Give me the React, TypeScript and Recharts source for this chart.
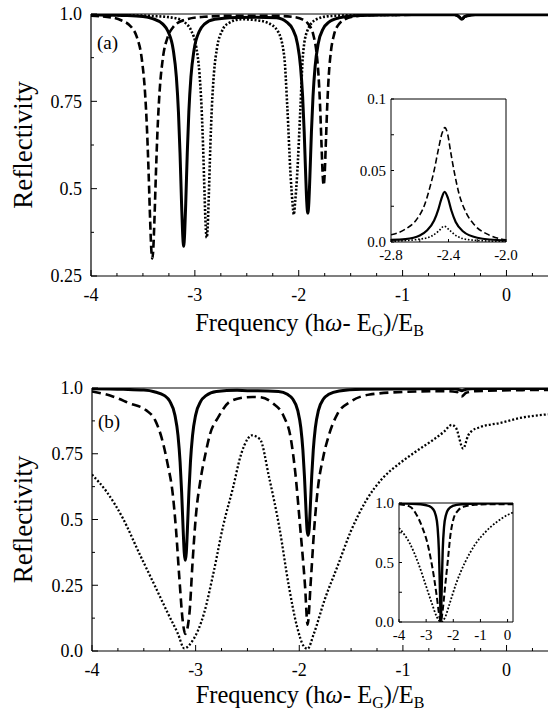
import React from 'react';
import { LineChart, Line, XAxis, YAxis, ReferenceLine } from 'recharts';

// ---------- Panel (a) main curves: [frequency, reflectivity] ----------
const aSolid: [number, number][] = [
  [-4.0, 0.998], [-3.7, 0.996], [-3.5, 0.993], [-3.408, 0.987], [-3.308, 0.971], [-3.258, 0.95],
  [-3.208, 0.897], [-3.178, 0.819], [-3.158, 0.719], [-3.143, 0.603], [-3.128, 0.457], [-3.118, 0.374],
  [-3.108, 0.335], [-3.098, 0.374], [-3.088, 0.457], [-3.073, 0.603], [-3.058, 0.719], [-3.038, 0.819],
  [-3.008, 0.897], [-2.958, 0.95], [-2.908, 0.971], [-2.808, 0.985], [-2.6, 0.99], [-2.4125, 0.991],
  [-2.2125, 0.989], [-2.1125, 0.976], [-2.0625, 0.959], [-2.0125, 0.915], [-1.9825, 0.849], [-1.9625, 0.764],
  [-1.9475, 0.664], [-1.9325, 0.535], [-1.9225, 0.461], [-1.9125, 0.43], [-1.9025, 0.461], [-1.8925, 0.535],
  [-1.8775, 0.664], [-1.8625, 0.764], [-1.8425, 0.849], [-1.8125, 0.915], [-1.7625, 0.959], [-1.7125, 0.976],
  [-1.6125, 0.989], [-1.4125, 0.996], [-1.0, 0.998], [-0.5, 0.998], [-0.46, 0.993], [-0.43, 0.985],
  [-0.4, 0.993], [-0.3, 0.998], [0.0, 0.998], [0.4, 0.998],
];
const aDashed: [number, number][] = [
  [-4.0, 0.995], [-3.8, 0.99], [-3.71, 0.982], [-3.61, 0.962], [-3.56, 0.935], [-3.51, 0.869],
  [-3.48, 0.776], [-3.46, 0.664], [-3.445, 0.543], [-3.43, 0.404], [-3.42, 0.329], [-3.41, 0.3],
  [-3.4, 0.329], [-3.39, 0.404], [-3.375, 0.543], [-3.36, 0.664], [-3.34, 0.776], [-3.31, 0.869],
  [-3.26, 0.935], [-3.21, 0.962], [-3.11, 0.982], [-2.91, 0.992], [-2.6, 0.995], [-2.26, 0.995],
  [-2.06, 0.992], [-1.96, 0.984], [-1.91, 0.972], [-1.86, 0.941], [-1.83, 0.893], [-1.81, 0.827],
  [-1.795, 0.741], [-1.78, 0.621], [-1.77, 0.543], [-1.76, 0.51], [-1.75, 0.543], [-1.74, 0.621],
  [-1.725, 0.741], [-1.71, 0.827], [-1.69, 0.893], [-1.66, 0.941], [-1.61, 0.972], [-1.56, 0.984],
  [-1.46, 0.993], [-1.26, 0.997], [-0.5, 0.998], [-0.46, 0.993], [-0.43, 0.985], [-0.4, 0.993],
  [-0.3, 0.998], [0.4, 0.998],
];
const aDotted: [number, number][] = [
  [-4.0, 0.998], [-3.6, 0.996], [-3.386, 0.994], [-3.186, 0.988], [-3.086, 0.973], [-3.036, 0.953],
  [-2.986, 0.904], [-2.956, 0.831], [-2.936, 0.735], [-2.921, 0.622], [-2.906, 0.478], [-2.896, 0.394],
  [-2.886, 0.36], [-2.876, 0.394], [-2.866, 0.478], [-2.851, 0.622], [-2.836, 0.735], [-2.816, 0.831],
  [-2.786, 0.904], [-2.736, 0.953], [-2.686, 0.972], [-2.55, 0.985], [-2.4, 0.982], [-2.3, 0.975],
  [-2.2, 0.95], [-2.14, 0.88], [-2.11, 0.734], [-2.078, 0.536], [-2.06, 0.46], [-2.047, 0.426],
  [-2.035, 0.46], [-2.016, 0.536], [-1.984, 0.73], [-1.96, 0.88], [-1.92, 0.95], [-1.83, 0.985],
  [-1.7, 0.994], [-1.4, 0.997], [-0.5, 0.998], [-0.46, 0.993], [-0.43, 0.986], [-0.4, 0.993],
  [-0.3, 0.998], [0.4, 0.998],
];

// ---------- Panel (a) inset ----------
const aInsetSolid: [number, number][] = [
  [-2.8, 0.0015], [-2.7, 0.002], [-2.6, 0.0045], [-2.55, 0.008], [-2.5, 0.015], [-2.47, 0.023],
  [-2.45, 0.03], [-2.427, 0.035], [-2.405, 0.031], [-2.38, 0.022], [-2.35, 0.014], [-2.3, 0.0075],
  [-2.2, 0.003], [-2.0, 0.001],
];
const aInsetDashed: [number, number][] = [
  [-2.8, 0.005], [-2.7, 0.009], [-2.62, 0.016], [-2.57, 0.025], [-2.53, 0.038], [-2.5, 0.05],
  [-2.47, 0.065], [-2.445, 0.076], [-2.425, 0.08], [-2.405, 0.075], [-2.385, 0.063], [-2.36, 0.049],
  [-2.33, 0.035], [-2.28, 0.021], [-2.22, 0.012], [-2.12, 0.005], [-2.0, 0.0015],
];
const aInsetDotted: [number, number][] = [
  [-2.8, 0.0005], [-2.6, 0.002], [-2.52, 0.004], [-2.47, 0.0075], [-2.43, 0.011], [-2.39, 0.008],
  [-2.34, 0.004], [-2.25, 0.0015], [-2.0, 0.0003],
];

// ---------- Panel (b) main curves ----------
const bSolid: [number, number][] = [
  [-4.0, 0.997], [-3.7, 0.995], [-3.5, 0.992], [-3.4, 0.986], [-3.3, 0.971], [-3.25, 0.95],
  [-3.2, 0.897], [-3.17, 0.819], [-3.15, 0.719], [-3.135, 0.603], [-3.12, 0.457], [-3.11, 0.374],
  [-3.1, 0.345], [-3.09, 0.374], [-3.08, 0.457], [-3.065, 0.603], [-3.05, 0.719], [-3.03, 0.819],
  [-3.0, 0.897], [-2.95, 0.95], [-2.9, 0.971], [-2.8, 0.987], [-2.6, 0.991], [-2.5, 0.99],
  [-2.4, 0.99], [-2.2, 0.987], [-2.115, 0.976], [-2.065, 0.959], [-2.015, 0.915], [-1.985, 0.849],
  [-1.965, 0.764], [-1.95, 0.664], [-1.935, 0.535], [-1.925, 0.461], [-1.915, 0.44], [-1.905, 0.461],
  [-1.895, 0.535], [-1.88, 0.664], [-1.865, 0.764], [-1.845, 0.849], [-1.815, 0.915], [-1.765, 0.959],
  [-1.715, 0.976], [-1.615, 0.989], [-1.4, 0.995], [-0.5, 0.998], [-0.46, 0.994], [-0.43, 0.99],
  [-0.39, 0.995], [-0.3, 0.998], [0.4, 0.998],
];
const bDashed: [number, number][] = [
  [-4.0, 0.987], [-3.8, 0.968], [-3.64, 0.942], [-3.48, 0.916], [-3.39, 0.877], [-3.33, 0.813],
  [-3.27, 0.71], [-3.22, 0.594], [-3.19, 0.465], [-3.156, 0.271], [-3.125, 0.116], [-3.1, 0.065],
  [-3.06, 0.142], [-3.03, 0.335], [-3.0, 0.503], [-2.95, 0.658], [-2.906, 0.748], [-2.86, 0.826],
  [-2.78, 0.89], [-2.67, 0.948], [-2.51, 0.965], [-2.45, 0.966], [-2.38, 0.965], [-2.256, 0.942],
  [-2.147, 0.89], [-2.084, 0.813], [-2.04, 0.684], [-1.99, 0.465], [-1.944, 0.245], [-1.92, 0.1],
  [-1.888, 0.271], [-1.856, 0.465], [-1.82, 0.62], [-1.77, 0.735], [-1.71, 0.826], [-1.63, 0.903],
  [-1.506, 0.948], [-1.32, 0.975], [-1.0, 0.985], [-0.6, 0.988], [-0.48, 0.985], [-0.434, 0.968],
  [-0.39, 0.982], [-0.3, 0.988], [0.4, 0.993],
];
const bDotted: [number, number][] = [
  [-4.0, 0.671], [-3.86, 0.606], [-3.7, 0.503], [-3.547, 0.374], [-3.39, 0.245], [-3.266, 0.142],
  [-3.17, 0.065], [-3.11, 0.01], [-3.03, 0.039], [-2.92, 0.142], [-2.828, 0.297], [-2.734, 0.477],
  [-2.64, 0.62], [-2.56, 0.75], [-2.5, 0.805], [-2.46, 0.82], [-2.38, 0.806], [-2.29, 0.658],
  [-2.19, 0.465], [-2.1, 0.245], [-2.02, 0.09], [-1.96, 0.02], [-1.92, 0.008], [-1.86, 0.065],
  [-1.756, 0.194], [-1.63, 0.323], [-1.506, 0.452], [-1.35, 0.575], [-1.2, 0.655], [-1.03, 0.714],
  [-0.85, 0.765], [-0.707, 0.803], [-0.6, 0.835], [-0.53, 0.86], [-0.49, 0.85], [-0.418, 0.77],
  [-0.37, 0.82], [-0.34, 0.835], [-0.257, 0.851], [-0.064, 0.867], [0.13, 0.886], [0.4, 0.9],
];

// ---------- Panel (b) inset ----------
const bInsetSolid: [number, number][] = [
  [-4.0, 0.998], [-3.2, 0.99], [-2.9, 0.975], [-2.75, 0.95], [-2.65, 0.9], [-2.58, 0.8],
  [-2.53, 0.6], [-2.5, 0.35], [-2.475, 0.1], [-2.46, 0.0], [-2.445, 0.1], [-2.42, 0.35],
  [-2.39, 0.6], [-2.34, 0.8], [-2.27, 0.9], [-2.17, 0.95], [-2.02, 0.975], [-1.7, 0.99],
  [-1.0, 0.996], [0.2, 0.998],
];
const bInsetDashed: [number, number][] = [
  [-4.0, 0.99], [-3.6, 0.97], [-3.35, 0.9], [-3.15, 0.8], [-2.95, 0.66], [-2.82, 0.52],
  [-2.7, 0.36], [-2.6, 0.2], [-2.52, 0.06], [-2.46, 0.0], [-2.4, 0.08], [-2.3, 0.3],
  [-2.2, 0.52], [-2.1, 0.74], [-2.0, 0.86], [-1.85, 0.93], [-1.6, 0.97], [-1.2, 0.985],
  [-0.5, 0.99], [0.2, 0.99],
];
const bInsetDotted: [number, number][] = [
  [-4.0, 0.79], [-3.6, 0.66], [-3.3, 0.5], [-3.0, 0.3], [-2.78, 0.15], [-2.6, 0.04],
  [-2.46, 0.0], [-2.3, 0.04], [-2.14, 0.15], [-1.9, 0.32], [-1.57, 0.5], [-1.2, 0.65],
  [-0.8, 0.76], [-0.4, 0.84], [0.0, 0.9], [0.2, 0.92],
];

// ---------- Tick values / labels ----------
const mainXLabels = [-4, -3, -2, -1, 0];
const aYLabels = [0.25, 0.5, 0.75, 1.0];
const bYLabels = [0, 0.25, 0.5, 0.75, 1.0];
const aInsetXLabels = [-2.8, -2.4, -2.0];
const aInsetYLabels = [0, 0.05, 0.1];
const bInsetXLabels = [-4, -3, -2, -1, 0];
const bInsetYLabels = [0, 0.5, 1.0];

const FONT = "'Liberation Serif', 'DejaVu Serif', serif";

const pts = (arr: [number, number][]) => arr.map(([x, y]) => ({ x, y }));

const steps = (from: number, to: number, step: number) => {
  const out: number[] = [];
  for (let v = from; v <= to + 1e-9; v += step) out.push(Math.round(v * 1000) / 1000);
  return out;
};

const isIn = (list: number[], v: number) => list.some((m) => Math.abs(m - v) < 1e-6);

const textStyle: React.CSSProperties = { fontFamily: FONT };

function makeXTick(labels: number[], fmt: (v: number) => string, fontSize: number, dy: number, majLen: number, minLen: number) {
  return (props: any) => {
    const { x, y, payload } = props;
    const v = payload.value;
    const major = isIn(labels, v);
    return (
      <g>
        <line x1={x} x2={x} y1={y} y2={y - (major ? majLen : minLen)} stroke="#000" strokeWidth={1} />
        {major && (
          <text x={x} y={y + dy} textAnchor="middle" style={textStyle} fontSize={fontSize} fill="#000">
            {fmt(v)}
          </text>
        )}
      </g>
    );
  };
}

function makeYTick(labels: number[], fmt: (v: number) => string, fontSize: number, gap: number, majLen: number, minLen: number) {
  return (props: any) => {
    const { x, y, payload } = props;
    const v = payload.value;
    const major = isIn(labels, v);
    return (
      <g>
        <line x1={x} x2={x + (major ? majLen : minLen)} y1={y} y2={y} stroke="#000" strokeWidth={1} />
        {major && (
          <text x={x - gap} y={y} dy="0.35em" textAnchor="end" style={textStyle} fontSize={fontSize} fill="#000">
            {fmt(v)}
          </text>
        )}
      </g>
    );
  };
}

const fmtInt = (v: number) => String(v);
const fmtMainY = (v: number) => (v === 1 ? '1.0' : v === 0 ? '0.0' : String(v));
const fmtInsetAX = (v: number) => v.toFixed(1);
const fmtInsetAY = (v: number) => (v === 0 ? '0.0' : String(v));
const fmtInsetBY = (v: number) => v.toFixed(1);

const makeXTitle = (offset: number) => (props: any) => {
  const vb = props.viewBox || { x: 91, y: 276, width: 457, height: 30 };
  const cx = vb.x + vb.width / 2 - 10;
  const y = vb.y + offset;
  return (
    <text x={cx} y={y} textAnchor="middle" style={textStyle} fontSize={24.5} fill="#000">
      Frequency (h<tspan fontStyle="italic">ω</tspan>- E<tspan dy={5} fontSize={16}>G</tspan>
      <tspan dy={-5}>)/E</tspan><tspan dy={5} fontSize={16}>B</tspan>
    </text>
  );
};

const yTitle = (props: any) => {
  const vb = props.viewBox || { x: 31, y: 14, width: 60, height: 262 };
  const cy = vb.y + vb.height / 2;
  const x = 23;
  return (
    <text x={x} y={cy} transform={`rotate(-90, ${x}, ${cy})`} dy="0.32em" textAnchor="middle" style={textStyle} fontSize={27} fill="#000">
      Reflectivity
    </text>
  );
};

const mainXTicks = steps(-4, 0.25, 0.25);

function MainPanel(props: {
  top: number; height: number; margin: any; yDomain: [number, number]; yTicks: number[]; yLabels: number[];
  solid: [number, number][]; dashed: [number, number][]; dotted: [number, number][]; titleOffset: number;
  solidW: number; dashedW: number; dottedW: number; dash: string; dot: string;
}) {
  const p = props;
  return (
    <div style={{ position: 'absolute', left: 0, top: p.top }}>
      <LineChart width={548} height={p.height} margin={p.margin}>
        <XAxis
          type="number" dataKey="x" domain={[-4, 0.4]} allowDataOverflow ticks={mainXTicks} interval={0}
          tickLine={false} tickSize={0} tickMargin={0} height={30}
          axisLine={{ stroke: '#000', strokeWidth: 1.2 }}
          tick={makeXTick(mainXLabels, fmtInt, 18, 25, 6, 3)}
          label={{ content: makeXTitle(p.titleOffset) }}
        />
        <YAxis
          type="number" dataKey="y" domain={p.yDomain} allowDataOverflow ticks={p.yTicks} interval={0}
          tickLine={false} tickSize={0} tickMargin={0} width={60}
          axisLine={{ stroke: '#000', strokeWidth: 1.2 }}
          tick={makeYTick(p.yLabels, fmtMainY, 18, 9, 6, 3)}
          label={{ content: yTitle }}
        />
        <ReferenceLine y={p.yDomain[1]} stroke="#000" strokeWidth={1} />
        <Line data={pts(p.dotted)} dataKey="y" type="monotone" dot={false} stroke="#000" strokeWidth={p.dottedW} strokeDasharray={p.dot} isAnimationActive={false} />
        <Line data={pts(p.dashed)} dataKey="y" type="monotone" dot={false} stroke="#000" strokeWidth={p.dashedW} strokeDasharray={p.dash} isAnimationActive={false} />
        <Line data={pts(p.solid)} dataKey="y" type="monotone" dot={false} stroke="#000" strokeWidth={p.solidW} isAnimationActive={false} />
      </LineChart>
    </div>
  );
}

function Inset(props: {
  left: number; top: number; width: number; height: number; margin: any; xDomain: [number, number];
  yDomain: [number, number]; xTicks: number[]; xLabels: number[]; yTicks: number[]; yLabels: number[];
  fmtX: (v: number) => string; fmtY: (v: number) => string; xHeight: number; xDy: number;
  solid: [number, number][]; dashed: [number, number][]; dotted: [number, number][];
  solidW: number; dashedW: number; dottedW: number; dash: string; dot: string;
}) {
  const p = props;
  return (
    <div style={{ position: 'absolute', left: p.left, top: p.top }}>
      <LineChart width={p.width} height={p.height} margin={p.margin}>
        <XAxis
          type="number" dataKey="x" domain={p.xDomain} allowDataOverflow ticks={p.xTicks} interval={0}
          tickLine={false} tickSize={0} tickMargin={0} height={p.xHeight}
          axisLine={{ stroke: '#000', strokeWidth: 1 }}
          tick={makeXTick(p.xLabels, p.fmtX, 15, p.xDy, 3, 3)}
        />
        <YAxis
          type="number" dataKey="y" domain={p.yDomain} allowDataOverflow ticks={p.yTicks} interval={0}
          tickLine={false} tickSize={0} tickMargin={0} width={40}
          axisLine={{ stroke: '#000', strokeWidth: 1 }}
          tick={makeYTick(p.yLabels, p.fmtY, 15, 5, 3, 3)}
        />
        <ReferenceLine y={p.yDomain[1]} stroke="#000" strokeWidth={1} />
        <ReferenceLine x={p.xDomain[1]} stroke="#000" strokeWidth={1} />
        <Line data={pts(p.dotted)} dataKey="y" type="monotone" dot={false} stroke="#000" strokeWidth={p.dottedW} strokeDasharray={p.dot} isAnimationActive={false} />
        <Line data={pts(p.dashed)} dataKey="y" type="monotone" dot={false} stroke="#000" strokeWidth={p.dashedW} strokeDasharray={p.dash} isAnimationActive={false} />
        <Line data={pts(p.solid)} dataKey="y" type="monotone" dot={false} stroke="#000" strokeWidth={p.solidW} isAnimationActive={false} />
      </LineChart>
    </div>
  );
}

const panelLabelStyle: React.CSSProperties = {
  position: 'absolute', fontFamily: FONT, fontSize: 19, color: '#000', lineHeight: '20px',
};

export default function App() {
  return (
    <div style={{ position: 'absolute', left: 0, top: 0, width: 548, height: 714, background: '#fff', overflow: 'hidden', fontFamily: FONT }}>
      <MainPanel
        top={0} height={345} margin={{ top: 14, right: 0, bottom: 39, left: 31 }}
        yDomain={[0.25, 1]} yTicks={steps(0.25, 1, 0.125)} yLabels={aYLabels} titleOffset={55}
        solid={aSolid} dashed={aDashed} dotted={aDotted}
        solidW={3} dashedW={2.6} dottedW={2.6} dash="8 4" dot="2 1.8"
      />
      <MainPanel
        top={340} height={374} margin={{ top: 48, right: 0, bottom: 33, left: 32 }}
        yDomain={[0, 1]} yTicks={steps(0, 1, 0.125)} yLabels={bYLabels} titleOffset={52}
        solid={bSolid} dashed={bDashed} dotted={bDotted}
        solidW={3} dashedW={2.6} dottedW={2.3} dash="9 5" dot="2 2"
      />
      <div style={{ ...panelLabelStyle, left: 97, top: 33 }}>(a)</div>
      <div style={{ ...panelLabelStyle, left: 98, top: 412 }}>(b)</div>
      <Inset
        left={340} top={90} width={208} height={180} margin={{ top: 9, right: 42, bottom: 7, left: 11 }}
        xDomain={[-2.8, -2.0]} yDomain={[0, 0.1]} xTicks={steps(-2.8, -2.0, 0.2)} xLabels={aInsetXLabels}
        yTicks={steps(0, 0.1, 0.025)} yLabels={aInsetYLabels} fmtX={fmtInsetAX} fmtY={fmtInsetAY}
        xHeight={21} xDy={18}
        solid={aInsetSolid} dashed={aInsetDashed} dotted={aInsetDotted}
        solidW={2.2} dashedW={1.6} dottedW={1.6} dash="6 3" dot="1.6 1.8"
      />
      <Inset
        left={349} top={495} width={199} height={165} margin={{ top: 8, right: 35, bottom: 18, left: 10 }}
        xDomain={[-4, 0.2]} yDomain={[0, 1]} xTicks={steps(-4, 0, 1)} xLabels={bInsetXLabels}
        yTicks={steps(0, 1, 0.25)} yLabels={bInsetYLabels} fmtX={fmtInt} fmtY={fmtInsetBY}
        xHeight={20} xDy={18}
        solid={bInsetSolid} dashed={bInsetDashed} dotted={bInsetDotted}
        solidW={2.4} dashedW={2} dottedW={1.8} dash="6 3" dot="1.8 1.8"
      />
    </div>
  );
}
